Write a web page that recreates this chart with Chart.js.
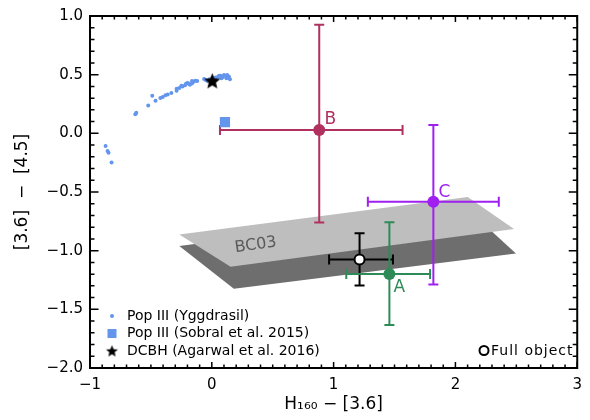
<!DOCTYPE html>
<html>
<head>
<meta charset="utf-8">
<script src="https://cdn.jsdelivr.net/npm/chart.js@4.4.1/dist/chart.umd.min.js"></script>
<style>
  html, body { margin: 0; padding: 0; background: #fff; }
</style>
</head>
<body>
<canvas id="chart" width="590" height="420"></canvas>
<script>
// Pop III (Yggdrasil) track
const yggX = [-0.872, -0.856, -0.848, -0.823, -0.628, -0.620, -0.522, -0.489, -0.462, -0.422,
  -0.403, -0.381, -0.362, -0.332, -0.289, -0.289, -0.267, -0.240, -0.212, -0.191,
  -0.163, -0.136, -0.163, -0.25, -0.22, -0.20, -0.18, -0.15, -0.12, -0.063,
  -0.036, -0.05, -0.02, 0.032, 0.05, 0.06, 0.073, 0.08, 0.09, 0.100,
  0.11, 0.12, 0.127, 0.13, 0.141, 0.149];
const yggY = [-0.109, -0.151, -0.165, -0.249, 0.162, 0.176, 0.237, 0.321, 0.277, 0.302,
  0.310, 0.324, 0.332, 0.344, 0.380, 0.363, 0.386, 0.399, 0.422, 0.424,
  0.424, 0.449, 0.447, 0.405, 0.41, 0.43, 0.415, 0.44, 0.445, 0.464,
  0.447, 0.455, 0.46, 0.475, 0.48, 0.49, 0.491, 0.47, 0.48, 0.497,
  0.49, 0.47, 0.497, 0.48, 0.483, 0.461];

const sobralX = [0.108];
const sobralY = [0.095];
const dcbhX = [0.004];
const dcbhY = [0.447];

// measured objects (full object first so it is drawn underneath)
const objNames = ['Full object', 'A', 'B', 'C'];
const objLabels = ['', 'A', 'B', 'C'];
const objX = [1.213, 1.458, 0.882, 1.819];
const objY = [-1.076, -1.198, 0.028, -0.584];
const objXLo = [0.963, 1.104, 0.067, 1.281];
const objXHi = [1.487, 1.792, 1.566, 2.356];
const objYLo = [-1.296, -1.634, -0.760, -1.288];
const objYHi = [-0.852, -0.757, 0.925, 0.070];
const objColors = ['#000000', '#2e8b57', '#b03060', '#a020f0'];

// BC03 planes (corner points)
const bc03TopX = [-0.267, 2.101, 2.481, 0.154];
const bc03TopY = [-0.863, -0.542, -0.816, -1.137];
const bc03BotX = [-0.267, 2.096, 2.497, 0.181];
const bc03BotY = [-0.961, -0.643, -1.025, -1.324];
const bc03LabelX = 0.36;
const bc03LabelY = -0.953;

const FONT = "'DejaVu Sans', sans-serif";

function pts(xs, ys) { return xs.map((x, i) => ({x: x, y: ys[i]})); }

function makeStar(r) {
  const s = Math.ceil(r * 2 + 2);
  const c = document.createElement('canvas');
  c.width = s; c.height = s;
  const g = c.getContext('2d');
  g.beginPath();
  for (let k = 0; k < 10; k++) {
    const rad = k % 2 === 0 ? r : r * 0.45;
    const a = -Math.PI / 2 + k * Math.PI / 5;
    g.lineTo(s / 2 + rad * Math.cos(a), s / 2 + rad * Math.sin(a) + r * 0.08);
  }
  g.closePath();
  g.fillStyle = '#000';
  g.fill();
  return c;
}
const starBig = makeStar(8.5);
const starSmall = makeStar(6.2);

function minusFmt(v, dec) {
  const s = Math.abs(v).toFixed(dec);
  return v < -1e-9 ? '\u2212' + s : s;
}

const errorBars = {
  id: 'errorBars',
  afterDatasetDraw(chart, args) {
    if (chart.data.datasets[args.index].label !== 'BC03 top') return;
    const ctx = chart.ctx;
    const xs = chart.scales.x, ys = chart.scales.y;
    ctx.save();
    // BC03 label on the plane
    const e0 = {x: xs.getPixelForValue(bc03TopX[0]), y: ys.getPixelForValue(bc03TopY[0])};
    const e1 = {x: xs.getPixelForValue(bc03TopX[1]), y: ys.getPixelForValue(bc03TopY[1])};
    const ang = Math.atan2(e1.y - e0.y, e1.x - e0.x) - 0.017;
    ctx.translate(xs.getPixelForValue(bc03LabelX), ys.getPixelForValue(bc03LabelY));
    ctx.rotate(ang);
    ctx.font = '16px ' + FONT;
    ctx.fillStyle = '#5a5a5a';
    ctx.textAlign = 'center';
    ctx.textBaseline = 'middle';
    ctx.fillText('BC03', 0, 0);
    ctx.restore();

    ctx.save();
    ctx.lineWidth = 2;
    const cap = 5;
    for (let i = 0; i < objX.length; i++) {
      const px = xs.getPixelForValue(objX[i]);
      const py = ys.getPixelForValue(objY[i]);
      const x0 = xs.getPixelForValue(objXLo[i]), x1 = xs.getPixelForValue(objXHi[i]);
      const y0 = ys.getPixelForValue(objYLo[i]), y1 = ys.getPixelForValue(objYHi[i]);
      ctx.strokeStyle = objColors[i];
      ctx.beginPath();
      ctx.moveTo(x0, py); ctx.lineTo(x1, py);
      ctx.moveTo(x0, py - cap); ctx.lineTo(x0, py + cap);
      ctx.moveTo(x1, py - cap); ctx.lineTo(x1, py + cap);
      ctx.moveTo(px, y0); ctx.lineTo(px, y1);
      ctx.moveTo(px - cap, y0); ctx.lineTo(px + cap, y0);
      ctx.moveTo(px - cap, y1); ctx.lineTo(px + cap, y1);
      ctx.stroke();
    }
    ctx.restore();
  },
  afterDatasetsDraw(chart) {
    const ctx = chart.ctx;
    const xs = chart.scales.x, ys = chart.scales.y;
    const offs = [[0, 0], [10, 14], [11, -10], [11, -9]];
    ctx.save();
    ctx.font = '17px ' + FONT;
    ctx.textAlign = 'center';
    ctx.textBaseline = 'middle';
    for (let i = 0; i < objX.length; i++) {
      if (!objLabels[i]) continue;
      ctx.fillStyle = objColors[i];
      ctx.fillText(objLabels[i], xs.getPixelForValue(objX[i]) + offs[i][0], ys.getPixelForValue(objY[i]) + offs[i][1]);
    }
    ctx.restore();
  },
  afterDraw(chart) {
    const ctx = chart.ctx;
    const {left, right, top, bottom} = chart.chartArea;
    const xs = chart.scales.x, ys = chart.scales.y;
    ctx.save();
    ctx.strokeStyle = '#000';
    ctx.lineWidth = 1.5;
    ctx.beginPath();
    for (let i = -10; i <= 30; i++) {
      const px = xs.getPixelForValue(i / 10);
      const len = i % 10 === 0 ? 6 : 3.5;
      ctx.moveTo(px, bottom); ctx.lineTo(px, bottom - len);
      ctx.moveTo(px, top); ctx.lineTo(px, top + len);
    }
    for (let i = -20; i <= 10; i++) {
      const py = ys.getPixelForValue(i / 10);
      const len = i % 5 === 0 ? 8.5 : 4.5;
      ctx.moveTo(left, py); ctx.lineTo(left + len, py);
      ctx.moveTo(right, py); ctx.lineTo(right - len, py);
    }
    ctx.stroke();
    ctx.lineWidth = 2;
    ctx.strokeRect(left, top, right - left, bottom - top);

    // legend
    ctx.font = '14px ' + FONT;
    ctx.fillStyle = '#000';
    ctx.textAlign = 'left';
    ctx.textBaseline = 'middle';
    ctx.fillStyle = '#6495ed';
    ctx.beginPath(); ctx.arc(112, 316, 2, 0, Math.PI * 2); ctx.fill();
    ctx.fillRect(107.5, 329, 9, 9);
    ctx.drawImage(starSmall, 112 - starSmall.width / 2, 351 - starSmall.height / 2);
    ctx.fillStyle = '#000';
    ctx.fillText('Pop III (Yggdrasil)', 127, 316);
    ctx.fillText('Pop III (Sobral et al. 2015)', 127, 333.5);
    ctx.fillText('DCBH (Agarwal et al. 2016)', 127, 351);

    ctx.lineWidth = 2;
    ctx.fillStyle = '#fff';
    ctx.beginPath(); ctx.arc(484, 350.5, 4.5, 0, Math.PI * 2); ctx.fill(); ctx.stroke();
    ctx.fillStyle = '#000';
    ctx.letterSpacing = '1px';
    ctx.fillText(objNames[0], 491, 351);
    ctx.restore();
  }
};

new Chart(document.getElementById('chart'), {
  type: 'scatter',
  data: {
    datasets: [
      {
        label: 'objects',
        data: pts(objX, objY),
        pointRadius: [5, 6, 6, 6],
        pointBackgroundColor: ['#ffffff', objColors[1], objColors[2], objColors[3]],
        pointBorderColor: objColors,
        pointBorderWidth: [2, 0, 0, 0],
        order: 0
      },
      {
        label: 'DCBH (Agarwal et al. 2016)',
        data: pts(dcbhX, dcbhY),
        pointStyle: starBig,
        order: 0
      },
      {
        label: 'Pop III (Sobral et al. 2015)',
        data: pts(sobralX, sobralY),
        pointStyle: 'rect',
        pointRadius: 7.2,
        pointBackgroundColor: '#6495ed',
        pointBorderWidth: 0,
        order: 0
      },
      {
        label: 'Pop III (Yggdrasil)',
        data: pts(yggX, yggY),
        pointRadius: 2,
        pointBackgroundColor: '#6495ed',
        pointBorderWidth: 0,
        order: 0
      },
      {
        label: 'BC03 top',
        data: pts(bc03TopX, bc03TopY),
        showLine: true,
        fill: 'shape',
        backgroundColor: '#bebebe',
        borderWidth: 0,
        pointRadius: 0,
        tension: 0,
        order: 1
      },
      {
        label: 'BC03 bottom',
        data: pts(bc03BotX, bc03BotY),
        showLine: true,
        fill: 'shape',
        backgroundColor: '#6e6e6e',
        borderWidth: 0,
        pointRadius: 0,
        tension: 0,
        order: 2
      }
    ]
  },
  options: {
    responsive: false,
    devicePixelRatio: 1,
    animation: false,
    layout: { padding: { left: 0, right: 10, top: 10, bottom: 0 } },
    plugins: {
      legend: { display: false },
      tooltip: { enabled: false }
    },
    scales: {
      x: {
        type: 'linear',
        min: -1,
        max: 3,
        ticks: {
          stepSize: 1,
          color: '#000',
          font: { family: FONT, size: 15 },
          padding: 8,
          maxRotation: 0,
          callback: v => minusFmt(v, 0)
        },
        grid: { display: false, drawTicks: false },
        border: { display: false },
        title: {
          display: true,
          text: 'H\u2081\u2086\u2080 \u2212 [3.6]',
          color: '#000',
          font: { family: FONT, size: 17 },
          padding: { top: 0, bottom: 5 }
        },
        afterFit: s => { s.height = 52; }
      },
      y: {
        type: 'linear',
        min: -2,
        max: 1,
        ticks: {
          stepSize: 0.5,
          color: '#000',
          font: { family: FONT, size: 15 },
          padding: 7,
          callback: v => minusFmt(v, 1)
        },
        grid: { display: false, drawTicks: false },
        border: { display: false },
        title: {
          display: true,
          text: '[3.6]  \u2212  [4.5]',
          color: '#000',
          font: { family: FONT, size: 17 },
          padding: { top: 12, bottom: 0 }
        },
        afterFit: s => { s.width = 90; }
      }
    }
  },
  plugins: [errorBars]
});
</script>
</body>
</html>
